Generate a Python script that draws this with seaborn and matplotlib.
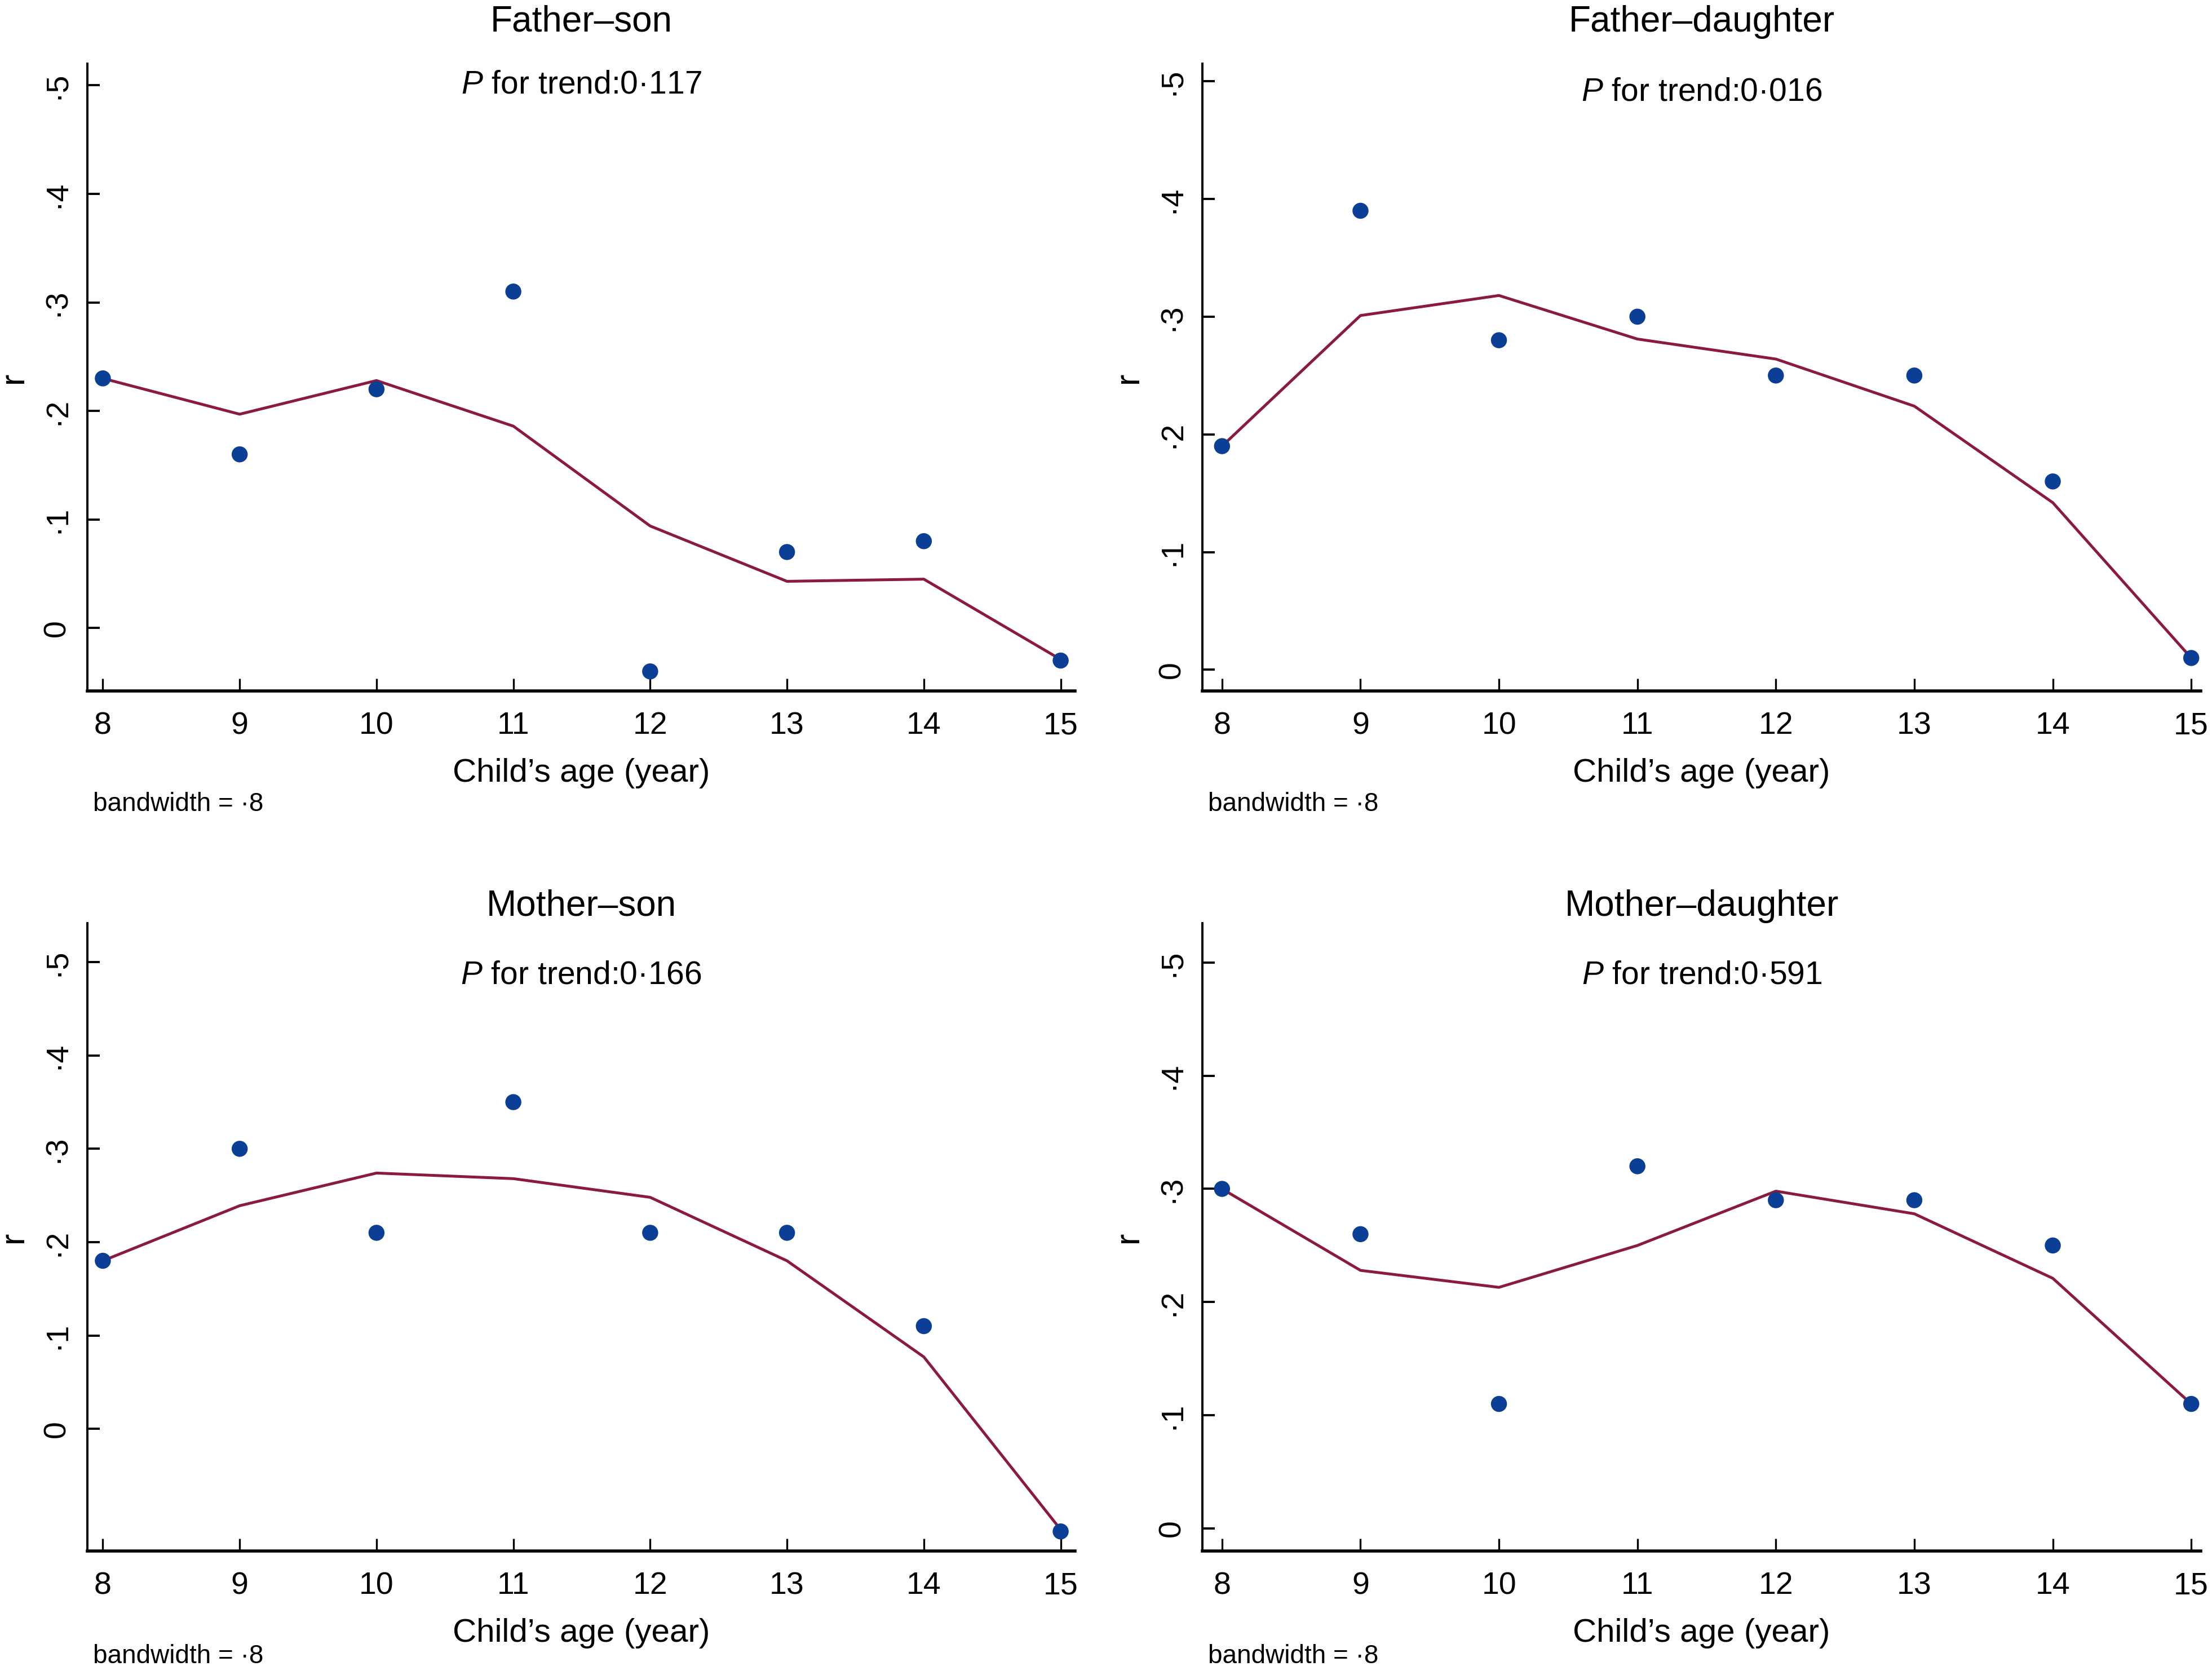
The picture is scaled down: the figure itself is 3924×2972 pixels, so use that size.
import matplotlib
matplotlib.use("Agg")
import matplotlib.pyplot as plt
import pandas as pd
import seaborn as sns

# child's age
ages = [8, 9, 10, 11, 12, 13, 14, 15]

# observed correlations (r) per age
fs_r = [0.23, 0.16, 0.22, 0.31, -0.04, 0.07, 0.08, -0.03]
fd_r = [0.19, 0.39, 0.28, 0.30, 0.25, 0.25, 0.16, 0.01]
ms_r = [0.18, 0.30, 0.21, 0.35, 0.21, 0.21, 0.11, -0.11]
md_r = [0.30, 0.26, 0.11, 0.32, 0.29, 0.29, 0.25, 0.11]

# lowess smooth (bandwidth .8)
fs_fit = [0.23, 0.197, 0.228, 0.186, 0.094, 0.043, 0.045, -0.029]
fd_fit = [0.19, 0.301, 0.318, 0.281, 0.264, 0.224, 0.142, 0.01]
ms_fit = [0.18, 0.239, 0.274, 0.268, 0.248, 0.18, 0.077, -0.108]
md_fit = [0.30, 0.228, 0.213, 0.25, 0.298, 0.278, 0.221, 0.11]

titles = ["Father\u2013son", "Father\u2013daughter", "Mother\u2013son", "Mother\u2013daughter"]
p_trend = ["0\u00b7117", "0\u00b7016", "0\u00b7166", "0\u00b7591"]
ylims = [(-0.058, 0.52), (-0.018, 0.515), (-0.131, 0.542), (-0.02, 0.535)]
xlims = [(7.887, 15.105), (7.857, 15.07), (7.887, 15.105), (7.857, 15.07)]
yticks = [0, 0.1, 0.2, 0.3, 0.4, 0.5]
ytick_labels = ["0", "\u00b71", "\u00b72", "\u00b73", "\u00b74", "\u00b75"]

DOT = "#0b3f95"
LINE = "#8b1a3f"

sns.set_theme(style="white")
plt.rcParams["font.family"] = ["Liberation Sans", "DejaVu Sans"]
plt.rcParams["mathtext.fontset"] = "custom"
plt.rcParams["mathtext.rm"] = "Liberation Sans"
plt.rcParams["mathtext.it"] = "Liberation Sans:italic"
plt.rcParams["text.color"] = "black"
plt.rcParams["axes.labelcolor"] = "black"
plt.rcParams["xtick.color"] = "black"
plt.rcParams["ytick.color"] = "black"

fig = plt.figure(figsize=(19.62, 14.86), dpi=200)

# axes boxes in figure fractions: left, bottom, width, height
boxes = [
    [0.0395, 0.5875, 0.4465, 0.3745],
    [0.5435, 0.5875, 0.4515, 0.3745],
    [0.0395, 0.0740, 0.4465, 0.3750],
    [0.5435, 0.0740, 0.4515, 0.3750],
]
p_y = [0.966, 0.955, 0.917, 0.917]
title_y = [0.987, 0.987, 0.459, 0.459]
band_y = [0.520, 0.520, 0.011, 0.011]

series = [(fs_r, fs_fit), (fd_r, fd_fit), (ms_r, ms_fit), (md_r, md_fit)]

for i, (obs, fit) in enumerate(series):
    ax = fig.add_axes(boxes[i])
    df = pd.DataFrame({"age": ages, "r": obs, "fit": fit})
    sns.lineplot(data=df, x="age", y="fit", color=LINE, lw=1.8, ax=ax, zorder=2)
    sns.scatterplot(data=df, x="age", y="r", color=DOT, s=105, edgecolor="none",
                    ax=ax, zorder=3)

    ax.set_xlim(*xlims[i])
    ax.set_ylim(*ylims[i])
    ax.set_xticks(ages)
    ax.set_xticklabels([str(a) for a in ages], fontsize=20)
    ax.set_yticks(yticks)
    ax.set_yticklabels(ytick_labels, fontsize=20, rotation=90, va="center")
    ax.tick_params(axis="x", direction="in", length=8, width=1.2, pad=13,
                   bottom=True)
    ax.tick_params(axis="y", direction="in", length=8, width=1.4, pad=10,
                   left=True)
    for s in ["top", "right"]:
        ax.spines[s].set_visible(False)
    ax.spines["left"].set_linewidth(1.4)
    ax.spines["bottom"].set_linewidth(2.0)
    ax.spines["left"].set_color("black")
    ax.spines["bottom"].set_color("black")

    ax.set_xlabel("Child\u2019s age (year)", fontsize=21, labelpad=11)
    ax.set_ylabel("r", fontsize=22, labelpad=8)

    ax.text(0.5, p_y[i], r"$\mathit{P}$ for trend:" + p_trend[i],
            transform=ax.transAxes, ha="center", va="center", fontsize=20.5)

    cx = boxes[i][0] + boxes[i][2] / 2
    fig.text(cx, title_y[i], titles[i], ha="center", va="center", fontsize=23)
    fig.text(boxes[i][0] + 0.0025, band_y[i], "bandwidth = \u00b78",
             ha="left", va="center", fontsize=16.5)

fig.savefig("out.png", dpi=200, facecolor="white")
